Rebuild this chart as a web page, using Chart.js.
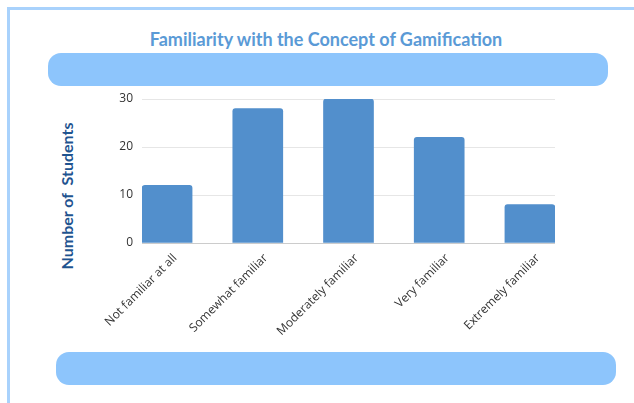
<!DOCTYPE html>
<html>
<head>
<meta charset="utf-8">
<script src="https://cdn.jsdelivr.net/npm/chart.js@4/dist/chart.umd.min.js"></script>
<style>
  html, body { margin: 0; padding: 0; background: #fff; }
  #wrap { position: relative; width: 634px; height: 403px; overflow: hidden; }
  .frame { position: absolute; left: 7px; top: 7px; width: 700px; height: 500px;
           border-top: 3px solid #a9d2fc; border-left: 3px solid #a9d2fc; }
  .pill { position: absolute; background: #8dc5fc; border-radius: 13px; }
  .title { position: absolute; left: 0; width: 652px; top: 28px; text-align: center;
           font: bold 18px Lato, sans-serif; color: #5a9ad6; white-space: nowrap; }
  .ytitle { position: absolute; left: 66px; top: 196px; transform: translate(-50%, -50%) rotate(-90deg);
            font: bold 16px Lato, sans-serif; color: #1f5490; white-space: pre; }
  canvas { position: absolute; left: 0; top: 0; }
</style>
</head>
<body>
<div id="wrap">
  <div class="frame"></div>
  <div class="title">Familiarity with the Concept of Gamification</div>
  <div class="pill" style="left:48px; top:53px; width:560px; height:33px;"></div>
  <div class="pill" style="left:56px; top:352px; width:560px; height:33px;"></div>
  <div class="ytitle">Number of  Students</div>
  <canvas id="chart" width="634" height="403"></canvas>
</div>
<script>
// chart values
const categories = ['Not familiar at all', 'Somewhat familiar', 'Moderately familiar', 'Very familiar', 'Extremely familiar'];
const students = [12, 28, 30, 22, 8];
const yTicks = [0, 10, 20, 30];

Chart.defaults.animation = false;
Chart.defaults.font.family = '"Open Sans", sans-serif';

const ctx = document.getElementById('chart');
new Chart(ctx, {
  type: 'bar',
  data: {
    datasets: [{
      label: 'Number of Students',
      data: students.map((v, i) => ({ x: i, y: v })),
      backgroundColor: '#528fcc',
      borderRadius: { topLeft: 3, topRight: 3 },
      borderSkipped: 'bottom',
      barThickness: 50
    }]
  },
  options: {
    responsive: false,
    maintainAspectRatio: false,
    layout: { padding: { left: 0, right: 79, top: 99, bottom: 50 } },
    plugins: {
      legend: { display: false },
      tooltip: { enabled: false }
    },
    scales: {
      x: {
        type: 'linear',
        offset: false,
        min: -0.2765,
        max: 4.2765,
        grid: { display: false },
        border: { display: false },
        afterBuildTicks: s => { s.ticks = categories.map((c, i) => ({ value: i })); },
        afterFit: s => { s.height = 110; },
        ticks: {
          autoSkip: false,
          maxRotation: 45,
          minRotation: 45,
          color: '#333',
          font: { size: 12 },
          padding: 0,
          labelOffset: 8,
          callback: v => categories[v]
        }
      },
      y: {
        min: 0,
        max: 30,
        afterBuildTicks: s => { s.ticks = yTicks.map(v => ({ value: v })); },
        afterFit: s => { s.width = 142; },
        grid: {
          color: ctx => ctx.tick && ctx.tick.value === 0 ? '#cccccc' : '#e6e6e6',
          drawTicks: false
        },
        border: { display: false },
        ticks: { color: '#333', font: { size: 12 }, padding: 9 }
      }
    }
  }
});
</script>
</body>
</html>
